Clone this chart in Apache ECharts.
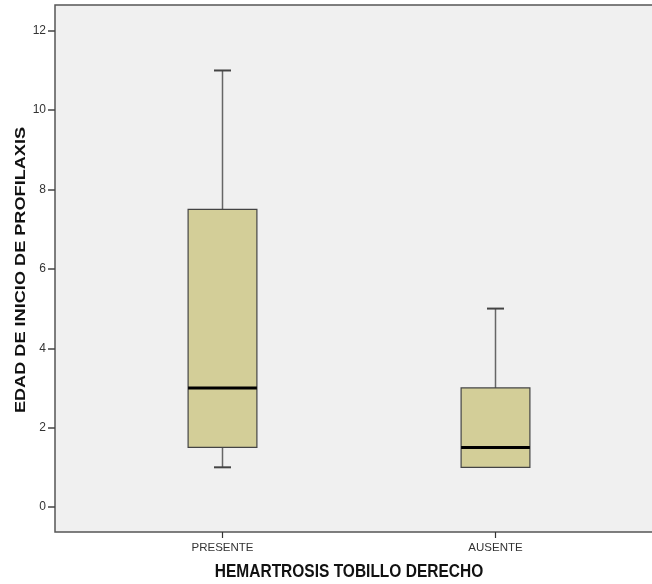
<!DOCTYPE html>
<html>
<head>
<meta charset="utf-8">
<script src="https://cdn.jsdelivr.net/npm/echarts@6/dist/echarts.min.js"></script>
<style>html,body{margin:0;padding:0;background:#fff;}#c{width:652px;height:584px;}</style>
</head>
<body>
<div id="c"></div>
<script>
const categories = ['PRESENTE', 'AUSENTE'];
const whiskerLow = [1, 1];
const q1 = [1.5, 1];
const median = [3, 1.5];
const q3 = [7.5, 3];
const whiskerHigh = [11, 5];
const yTicks = [0, 2, 4, 6, 8, 10, 12];

const data = categories.map((c, i) => [i, whiskerLow[i], q1[i], median[i], q3[i], whiskerHigh[i]]);
const Y_MIN = -0.63, Y_MAX = 12.65;

const chart = echarts.init(document.getElementById('c'), null, {renderer: 'canvas'});
const font = 'Liberation Sans, Arial, sans-serif';

function renderItem(params, api) {
  const x = api.value(0);
  const lo = api.coord([x, api.value(1)]);
  const b1 = api.coord([x, api.value(2)]);
  const md = api.coord([x, api.value(3)]);
  const b3 = api.coord([x, api.value(4)]);
  const hi = api.coord([x, api.value(5)]);
  const bw = api.size([1, 0])[0] * 0.252;
  const cw = 17;
  const cx = md[0];
  const children = [];
  if (hi[1] < b3[1]) {
    children.push({type: 'line', shape: {x1: cx, y1: hi[1], x2: cx, y2: b3[1]}, style: {stroke: '#666', lineWidth: 1.5}});
    children.push({type: 'line', shape: {x1: cx - cw / 2, y1: hi[1], x2: cx + cw / 2, y2: hi[1]}, style: {stroke: '#444', lineWidth: 2}});
  }
  if (lo[1] > b1[1]) {
    children.push({type: 'line', shape: {x1: cx, y1: b1[1], x2: cx, y2: lo[1]}, style: {stroke: '#666', lineWidth: 1.5}});
    children.push({type: 'line', shape: {x1: cx - cw / 2, y1: lo[1], x2: cx + cw / 2, y2: lo[1]}, style: {stroke: '#444', lineWidth: 2}});
  }
  children.push({type: 'rect', shape: {x: cx - bw / 2, y: b3[1], width: bw, height: b1[1] - b3[1]}, style: {fill: '#D3CE98', stroke: '#444', lineWidth: 1.2}});
  children.push({type: 'line', shape: {x1: cx - bw / 2, y1: md[1], x2: cx + bw / 2, y2: md[1]}, style: {stroke: '#000', lineWidth: 3}});
  return {type: 'group', children};
}

chart.setOption({
  animation: false,
  backgroundColor: '#fff',
  grid: [
    {left: 55, top: 5, width: 620, bottom: 52, show: true, outerBoundsMode: 'none', backgroundColor: '#F0F0F0', borderColor: '#555', borderWidth: 1.5},
    {left: 86, top: 5, right: 20, bottom: 52, outerBoundsMode: 'none'}
  ],
  xAxis: [
    {type: 'value', gridIndex: 0, min: 0, max: 1, show: false},
    {type: 'category', gridIndex: 1, data: categories, position: 'bottom',
      axisLine: {show: false, onZero: false},
      axisTick: {show: true, alignWithLabel: true, length: 6, lineStyle: {color: '#333', width: 1.2}},
      axisLabel: {color: '#333', fontSize: 11.5, fontFamily: font, margin: 10}}
  ],
  yAxis: [
    {type: 'value', gridIndex: 0, min: Y_MIN, max: Y_MAX,
      axisLine: {show: false},
      splitLine: {show: false},
      axisTick: {show: true, length: 7, customValues: yTicks, lineStyle: {color: '#444', width: 1.5}},
      axisLabel: {color: '#333', fontSize: 12, fontFamily: font, margin: 9, customValues: yTicks}},
    {type: 'value', gridIndex: 1, min: Y_MIN, max: Y_MAX, show: false}
  ],
  graphic: [
    {type: 'text', x: 349, y: 572, scaleY: 1.15, style: {text: 'HEMARTROSIS TOBILLO DERECHO', font: 'bold 15.5px ' + font, fill: '#111', align: 'center', verticalAlign: 'middle'}},
    {type: 'text', rotation: Math.PI / 2, x: 21, y: 270, scaleX: 1.17, style: {text: 'EDAD DE INICIO DE PROFILAXIS', font: 'bold 15.5px ' + font, fill: '#111', align: 'center', verticalAlign: 'middle'}}
  ],
  series: [{
    type: 'custom', xAxisIndex: 1, yAxisIndex: 1,
    renderItem, data,
    encode: {x: 0, y: [1, 2, 3, 4, 5]}
  }]
});
</script>
</body>
</html>
